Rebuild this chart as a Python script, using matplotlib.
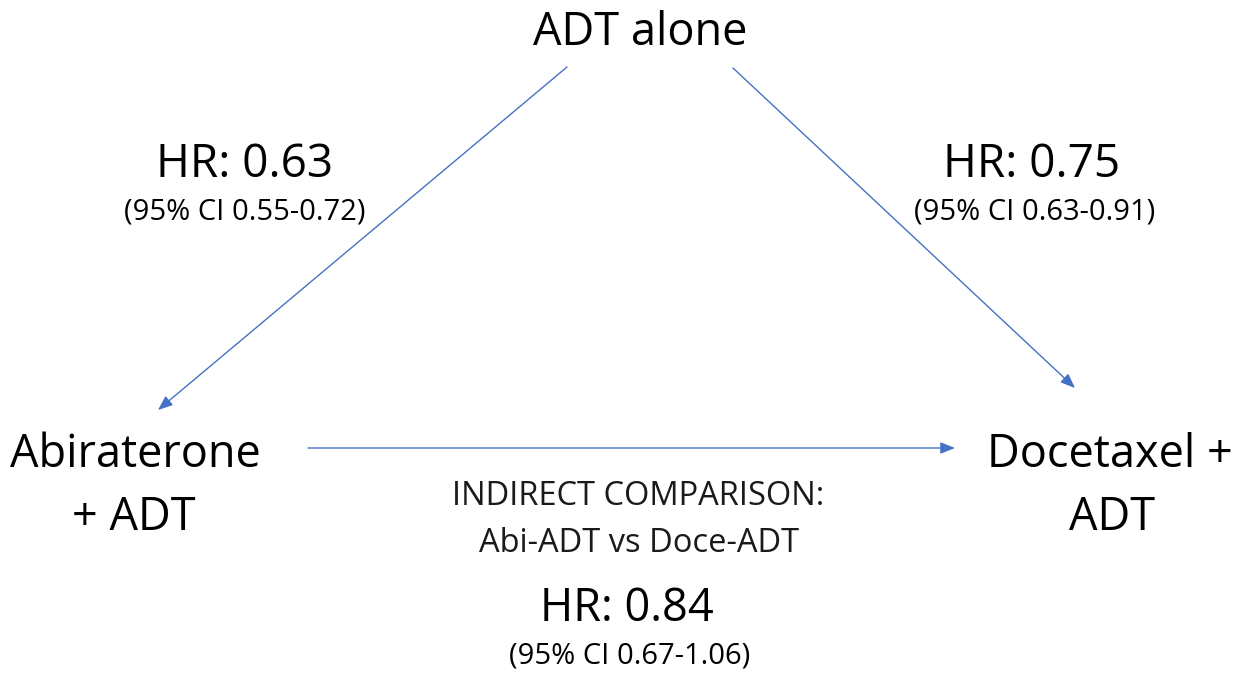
import matplotlib
matplotlib.use("Agg")
import matplotlib.pyplot as plt
from matplotlib.patches import FancyArrowPatch

plt.rcParams['font.family'] = ['Open Sans', 'DejaVu Sans']

# Data (text content)
node_top_lines = ["ADT alone"]
node_left_lines = ["Abiraterone", "+ ADT"]
node_right_lines = ["Docetaxel +", "ADT"]
hr_labels = ["HR: 0.63", "HR: 0.75", "HR: 0.84"]
ci_labels = ["(95% CI 0.55-0.72)", "(95% CI 0.63-0.91)", "(95% CI 0.67-1.06)"]
indirect_lines = ["INDIRECT COMPARISON:", "Abi-ADT vs Doce-ADT"]

# Layout (pixel coordinates, y downwards; y values are text baselines)
W, H = 1239, 673
fig = plt.figure(figsize=(W / 100, H / 100), dpi=100)
ax = fig.add_axes([0, 0, 1, 1])
ax.set_xlim(0, W)
ax.set_ylim(H, 0)
ax.axis('off')

top_pos = [(640, 45)]
left_pos = [(135, 467), (134, 530)]
right_pos = [(1110, 467), (1112, 530)]
hr_pos = [(245, 177), (1032, 177), (627, 621)]
ci_pos = [(245, 219), (1035, 219), (630, 664)]
indirect_pos = [(638, 505), (639, 552)]

node_fs = 32.5
hr_fs = 33
hr_fs_bottom = 32.5
ci_fs = 21
indirect_fs = 23.5

arrows = [((567, 67), (158, 410)), ((733, 68), (1075, 388)), ((308, 448), (955, 448))]
blue = '#4472C4'

for lines, pos in ((node_top_lines, top_pos), (node_left_lines, left_pos),
                   (node_right_lines, right_pos)):
    for lbl, (x, y) in zip(lines, pos):
        ax.text(x, y, lbl, ha='center', va='baseline', fontsize=node_fs, color='black')

for i, (lbl, (x, y)) in enumerate(zip(hr_labels, hr_pos)):
    ax.text(x, y, lbl, ha='center', va='baseline',
            fontsize=hr_fs if i < 2 else hr_fs_bottom, color='black')
for lbl, (x, y) in zip(ci_labels, ci_pos):
    ax.text(x, y, lbl, ha='center', va='baseline', fontsize=ci_fs, color='black')
for lbl, (x, y) in zip(indirect_lines, indirect_pos):
    ax.text(x, y, lbl, ha='center', va='baseline', fontsize=indirect_fs, color='#1a1a1a')

for (p0, p1) in arrows:
    ax.add_patch(FancyArrowPatch(p0, p1, arrowstyle='-|>,head_length=0.55,head_width=0.22',
                                 mutation_scale=16, linewidth=1.0, color=blue,
                                 shrinkA=0, shrinkB=0))

fig.savefig('out.png', dpi=100)
